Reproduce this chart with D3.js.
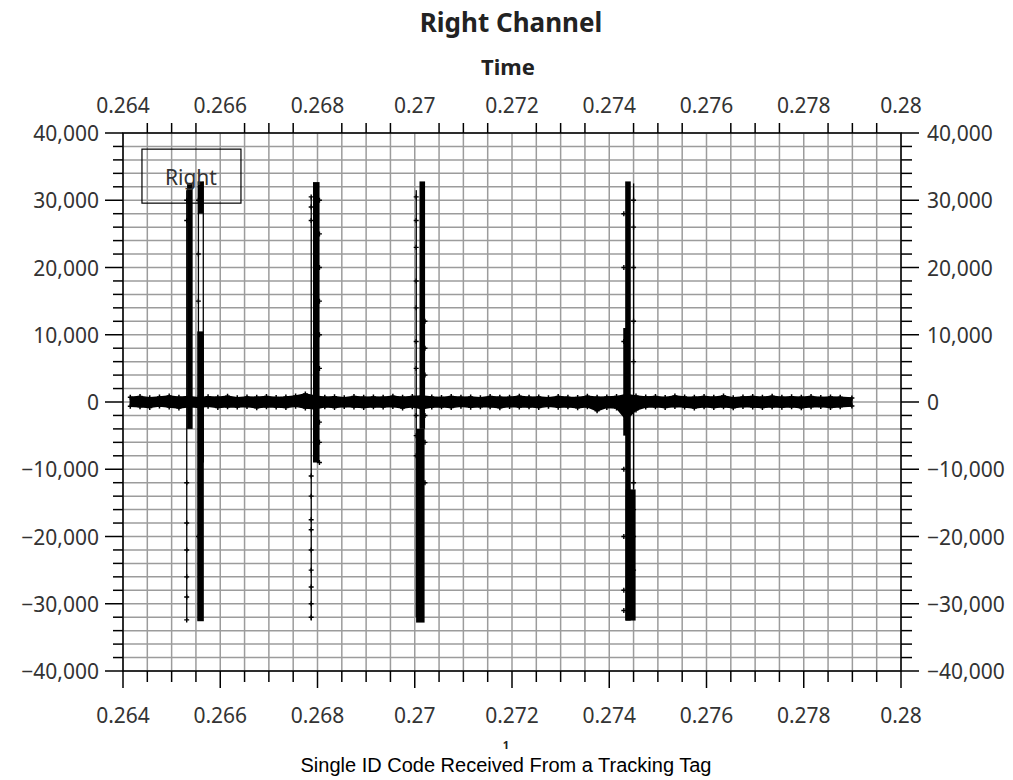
<!DOCTYPE html>
<html>
<head>
<meta charset="utf-8">
<script src="https://cdn.jsdelivr.net/npm/d3@7"></script>
<style>
  body { margin: 0; background: #fff; }
  svg { display: block; }
</style>
</head>
<body>
<div id="chart"></div>
<script>
// Axis ticks
const xMajorTicks = [0.264, 0.266, 0.268, 0.27, 0.272, 0.274, 0.276, 0.278, 0.28];
const xTickLabels = ['0.264', '0.266', '0.268', '0.27', '0.272', '0.274', '0.276', '0.278', '0.28'];
const yMajorTicks = [-40000, -30000, -20000, -10000, 0, 10000, 20000, 30000, 40000];

// Background noise envelope (time in s, min / max sample value)
const noiseT = [
  0.26415, 0.26435, 0.26455, 0.26475, 0.26495, 0.26515, 0.26535, 0.26555, 0.26575, 0.26595,
  0.26615, 0.26635, 0.26655, 0.26675, 0.26695, 0.26715, 0.26735, 0.26755, 0.26775, 0.26795,
  0.26815, 0.26835, 0.26855, 0.26875, 0.26895, 0.26915, 0.26935, 0.26955, 0.26975, 0.26995,
  0.27015, 0.27035, 0.27055, 0.27075, 0.27095, 0.27115, 0.27135, 0.27155, 0.27175, 0.27195,
  0.27215, 0.27235, 0.27255, 0.27275, 0.27295, 0.27315, 0.27335, 0.27355, 0.27375, 0.27395,
  0.27415, 0.27435, 0.27455, 0.27475, 0.27495, 0.27515, 0.27535, 0.27555, 0.27575, 0.27595,
  0.27615, 0.27635, 0.27655, 0.27675, 0.27695, 0.27715, 0.27735, 0.27755, 0.27775, 0.27795,
  0.27815, 0.27835, 0.27855, 0.27875, 0.27899
];
const noiseHi = [
  700, 820, 650, 760, 900, 700, 800, 650, 780, 720,
  850, 640, 760, 700, 820, 680, 750, 900, 1200, 900,
  700, 780, 640, 820, 700, 760, 690, 850, 720, 800,
  900, 740, 680, 820, 700, 760, 650, 800, 720, 690,
  840, 700, 760, 640, 800, 720, 680, 860, 700, 750,
  800, 1100, 900, 740, 820, 680, 900, 760, 700, 820,
  720, 880, 650, 760, 800, 700, 860, 720, 780, 700,
  820, 680, 760, 720, 600
];
const noiseLo = [
  -650, -720, -800, -600, -750, -900, -700, -780, -640, -820,
  -700, -760, -680, -850, -700, -740, -800, -650, -900, -1000,
  -720, -800, -660, -740, -820, -700, -760, -680, -900, -720,
  -1000, -760, -700, -820, -650, -780, -720, -700, -840, -680,
  -760, -700, -820, -650, -780, -720, -860, -700, -1300, -800,
  -900, -2600, -1200, -760, -700, -820, -680, -760, -900, -700,
  -800, -720, -860, -680, -760, -820, -700, -780, -700, -840,
  -720, -680, -800, -700, -600
];

// Tag pulses: time spans with min / max sample value
const pulseT0 = [0.26531, 0.26533, 0.26555, 0.26554, 0.26555, 0.26565,
                 0.26787, 0.26792,
                 0.27003, 0.27004, 0.27011,
                 0.27434, 0.27450, 0.27435, 0.27430];
const pulseT1 = [0.26531, 0.26542, 0.26555, 0.26565, 0.26564, 0.26565,
                 0.26787, 0.26803,
                 0.27003, 0.27019, 0.27020,
                 0.27443, 0.27450, 0.27453, 0.27435];
const pulseLo = [-32400, -4000, -32500, -32600, 28000, -9000,
                 -32500, -9000,
                 -32000, -32800, -4000,
                 -32500, -13000, -32500, -5000];
const pulseHi = [31500, 32600, 32800, 10500, 32800, 32800,
                 30500, 32700,
                 31500, -4000, 32800,
                 32800, 32500, -13000, 11000];

// Individual samples visible as markers along the pulses
const markT = [
  0.26531, 0.26531, 0.26531, 0.26531, 0.26531, 0.26531, 0.26531, 0.26531,
  0.26555, 0.26555, 0.26555, 0.26555,
  0.26787, 0.26787, 0.26787, 0.26787, 0.26787, 0.26787, 0.26787, 0.26787, 0.26787, 0.26787, 0.26787, 0.26787,
  0.26804, 0.26804, 0.26804, 0.26804, 0.26804, 0.26804, 0.26804, 0.26804, 0.26804,
  0.27003, 0.27003, 0.27003, 0.27003, 0.27003, 0.27003, 0.27003, 0.27003, 0.27003, 0.27003,
  0.27021, 0.27021, 0.27021, 0.27021, 0.27021, 0.27021,
  0.27450, 0.27450, 0.27450, 0.27450, 0.27450, 0.27450, 0.27450, 0.27450, 0.27450,
  0.27430, 0.27430, 0.27430, 0.27430, 0.27430, 0.27430, 0.27430
];
const markV = [
  -32400, -29000, -26000, -22000, -18000, -12000, 27000, 30000,
  30000, 22000, 15000, -20000,
  -32000, -30000, -27500, -25000, -22000, -19000, -17500, -14000, -11000, 29000, 30500, 27000,
  30000, 25000, 20000, 15000, 10000, 5000, -3000, -6000, -9000,
  30500, 27000, 23000, 18000, 14000, 9000, 5000, -2000, -5000, -8000,
  12000, 8000, 4000, -2000, -6000, -12000,
  30000, 26000, 20000, 12000, 6000, -12000, -16000, -20000, -25000,
  28000, 20000, 9000, -10000, -20000, -28000, -31000
];

const CONFIG = {
  width: 1013,
  height: 780,
  margin: { top: 133, right: 112, bottom: 109, left: 123 },
  tickFont: '"Noto Sans", sans-serif',
  tickColor: '#333',
  gridColor: '#9c9c9c'
};

function drawChart() {
  const m = CONFIG.margin;
  const innerW = CONFIG.width - m.left - m.right;
  const innerH = CONFIG.height - m.top - m.bottom;

  const svg = d3.select('#chart').append('svg')
    .attr('width', CONFIG.width)
    .attr('height', CONFIG.height);

  const x = d3.scaleLinear().domain([0.264, 0.28]).range([0, innerW]);
  const y = d3.scaleLinear().domain([-40000, 40000]).range([innerH, 0]);

  const g = svg.append('g').attr('transform', `translate(${m.left},${m.top})`);

  // grid
  const xMinor = x.ticks(32);
  const yMinor = y.ticks(40);
  g.append('g').selectAll('line.vg').data(xMinor).enter().append('line')
    .attr('x1', d => x(d)).attr('x2', d => x(d))
    .attr('y1', 0).attr('y2', innerH)
    .attr('stroke', CONFIG.gridColor).attr('stroke-width', 1.5);
  g.append('g').selectAll('line.hg').data(yMinor).enter().append('line')
    .attr('x1', 0).attr('x2', innerW)
    .attr('y1', d => y(d)).attr('y2', d => y(d))
    .attr('stroke', CONFIG.gridColor).attr('stroke-width', 1.5);

  // ticks
  const isMajorX = d => xMajorTicks.some(v => Math.abs(v - d) < 1e-7);
  const isMajorY = d => yMajorTicks.includes(d);
  const tk = g.append('g').attr('stroke', '#000').attr('stroke-width', 1.5);
  // top: minor only, upward
  tk.selectAll('line.tt').data(xMinor.filter(d => !isMajorX(d))).enter().append('line')
    .attr('x1', d => x(d)).attr('x2', d => x(d)).attr('y1', 0).attr('y2', -10);
  // bottom
  tk.selectAll('line.bt').data(xMinor).enter().append('line')
    .attr('x1', d => x(d)).attr('x2', d => x(d))
    .attr('y1', innerH).attr('y2', d => innerH + (isMajorX(d) ? 17 : 11));
  // left
  tk.selectAll('line.lt').data(yMinor).enter().append('line')
    .attr('y1', d => y(d)).attr('y2', d => y(d))
    .attr('x1', 0).attr('x2', d => isMajorY(d) ? -18 : -10);
  // right
  tk.selectAll('line.rt').data(yMinor).enter().append('line')
    .attr('y1', d => y(d)).attr('y2', d => y(d))
    .attr('x1', innerW).attr('x2', d => innerW + (isMajorY(d) ? 18 : 11));

  // frame
  g.append('rect').attr('width', innerW).attr('height', innerH)
    .attr('fill', 'none').attr('stroke', '#000').attr('stroke-width', 1.5);

  // tick labels
  const lab = g.append('g')
    .style('font-family', CONFIG.tickFont).style('font-size', '21px')
    .attr('fill', CONFIG.tickColor);
  lab.selectAll('text.xt').data(xMajorTicks).enter().append('text')
    .attr('x', d => x(d)).attr('y', -20).attr('text-anchor', 'middle')
    .text((d, i) => xTickLabels[i]);
  lab.selectAll('text.xb').data(xMajorTicks).enter().append('text')
    .attr('x', d => x(d)).attr('y', innerH + 52).attr('text-anchor', 'middle')
    .text((d, i) => xTickLabels[i]);
  const fmt = d3.format(',');
  lab.selectAll('text.yl').data(yMajorTicks).enter().append('text')
    .attr('x', -24).attr('y', d => y(d) + 8).attr('text-anchor', 'end')
    .text(d => fmt(d));
  lab.selectAll('text.yr').data(yMajorTicks).enter().append('text')
    .attr('x', innerW + 26).attr('y', d => y(d) + 8).attr('text-anchor', 'start')
    .text(d => fmt(d));

  // data
  const plot = g.append('g');
  const noise = noiseT.map((t, i) => ({ t, lo: noiseLo[i], hi: noiseHi[i] }));
  const area = d3.area().x(d => x(d.t)).y0(d => y(d.lo)).y1(d => y(d.hi));
  plot.append('path').datum(noise).attr('d', area)
    .attr('fill', '#000').attr('stroke', '#000').attr('stroke-width', 1.5)
    .attr('stroke-linejoin', 'round');

  const plus = 'M-2.5,0H2.5M0,-2.5V2.5';
  const noiseMarks = noise.flatMap(d => [[d.t, d.lo], [d.t, d.hi]]);
  plot.selectAll('path.nm').data(noiseMarks).enter().append('path')
    .attr('transform', d => `translate(${x(d[0])},${y(d[1])})`)
    .attr('d', plus).attr('stroke', '#000').attr('stroke-width', 1.5);

  const pulses = pulseT0.map((t0, i) => ({ t0, t1: pulseT1[i], lo: pulseLo[i], hi: pulseHi[i] }));
  plot.selectAll('rect.pulse').data(pulses).enter().append('rect')
    .attr('x', d => x(d.t0) - 0.6)
    .attr('width', d => Math.max(1.3, x(d.t1) - x(d.t0) + 1.2))
    .attr('y', d => y(d.hi))
    .attr('height', d => y(d.lo) - y(d.hi))
    .attr('fill', '#000');

  const marks = markT.map((t, i) => [t, markV[i]]);
  plot.selectAll('path.pm').data(marks).enter().append('path')
    .attr('transform', d => `translate(${x(d[0])},${y(d[1])})`)
    .attr('d', plus).attr('stroke', '#000').attr('stroke-width', 1.4);

  // legend
  const leg = g.append('g').attr('transform', `translate(${x(0.26439)},${y(37600)})`);
  leg.append('rect').attr('width', 99).attr('height', 54)
    .attr('fill', 'none').attr('stroke', '#000').attr('stroke-width', 1.2);
  leg.append('text').attr('x', 49).attr('y', 36).attr('text-anchor', 'middle')
    .style('font-family', CONFIG.tickFont).style('font-size', '21px')
    .attr('fill', CONFIG.tickColor).text('Right');

  // titles
  svg.append('text').attr('x', 511).attr('y', 32).attr('text-anchor', 'middle')
    .style('font-family', CONFIG.tickFont).style('font-weight', 'bold').style('font-size', '26px')
    .attr('fill', '#222').text('Right Channel');
  svg.append('text').attr('x', 508).attr('y', 75).attr('text-anchor', 'middle')
    .style('font-family', CONFIG.tickFont).style('font-weight', 'bold').style('font-size', '22px')
    .attr('fill', '#222').text('Time');

  // small bottom axis title just above the caption
  svg.append('text').attr('x', 506).attr('y', 749).attr('text-anchor', 'middle')
    .style('font-family', CONFIG.tickFont).style('font-weight', 'bold').style('font-size', '11px')
    .attr('fill', '#222').text('1');
  svg.append('text').attr('x', 506).attr('y', 772).attr('text-anchor', 'middle')
    .style('font-family', '"Liberation Sans", Arial, sans-serif').style('font-size', '20px')
    .attr('fill', '#000').text('Single ID Code Received From a Tracking Tag');
}

drawChart();
</script>
</body>
</html>
